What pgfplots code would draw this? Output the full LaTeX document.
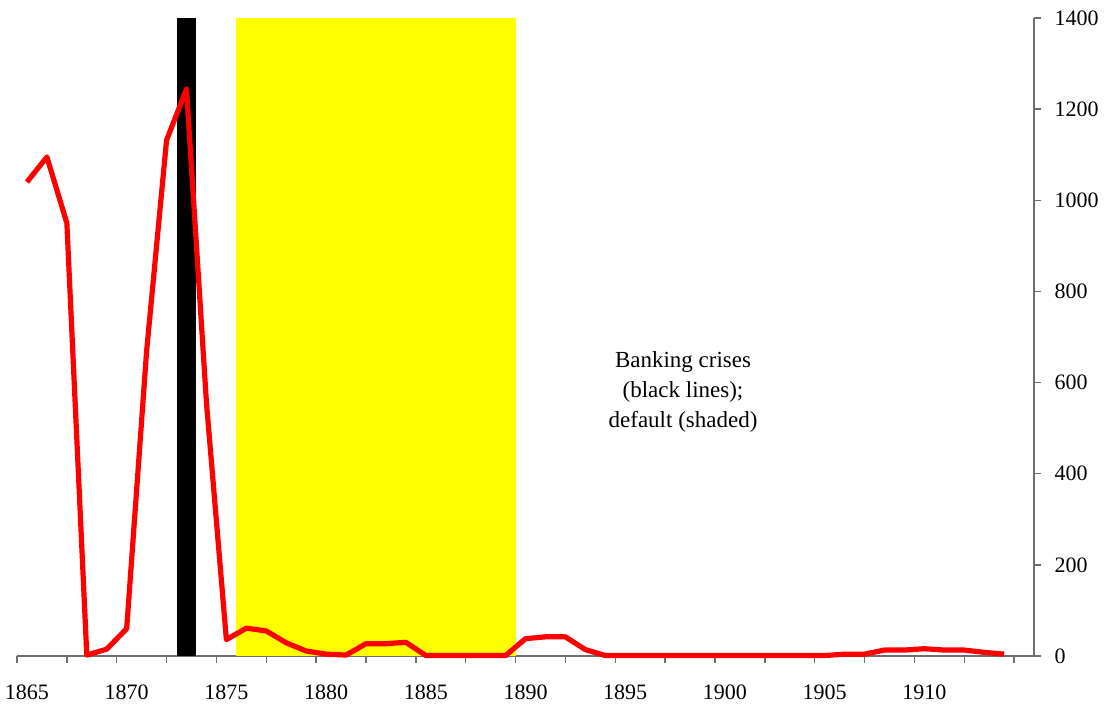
\documentclass[border=0pt]{standalone}
\usepackage{fontspec}
\setmainfont{Liberation Serif}
\usepackage{pgfplots}
\pgfplotsset{compat=1.18}
\definecolor{axisgray}{RGB}{110,110,110}
\definecolor{pureyellow}{RGB}{255,255,0}
\begin{document}
\fontsize{11pt}{13pt}\selectfont
\begin{tikzpicture}
\begin{axis}[
  scale only axis,
  width=508.5pt, height=319pt,
  xmin=1864.5, xmax=1915.5,
  ymin=0, ymax=1400,
  axis x line=bottom, axis y line=right,
  axis line style={-, draw=axisgray, line width=0.7pt},
  xtick={1864.5,1867,1869.5,1872,1874.5,1877,1879.5,1882,1884.5,1887,1889.5,1892,1894.5,1897,1899.5,1902,1904.5,1907,1909.5,1912,1914.5},
  xticklabels={},
  extra x ticks={1865,1870,1875,1880,1885,1890,1895,1900,1905,1910},
  extra x tick labels={1865,1870,1875,1880,1885,1890,1895,1900,1905,1910},
  extra x tick style={major tick length=0pt, tick label style={yshift=-10.5pt}},
  ytick={0,200,400,600,800,1000,1200,1400},
  tick align=outside,
  major tick length=3.5pt,
  tick style={draw=axisgray, line width=0.7pt},
  every tick label/.append style={font=\fontsize{11pt}{13pt}\selectfont},
  yticklabel style={xshift=3pt},
  /pgf/number format/assume math mode=true,
  /pgf/number format/1000 sep={},
  clip=false,
]
\addplot[fill=pureyellow, draw=none] coordinates {(1875.5,1400) (1889.5,1400)} \closedcycle;
\addplot[fill=black, draw=none] coordinates {(1872.5,1400) (1873.5,1400)} \closedcycle;
\addplot[red, line width=2.6pt, line join=round] coordinates {
(1865,1040) (1866,1095) (1867,950) (1868,2) (1869,15) (1870,60)
(1871,669) (1872,1132) (1873,1244) (1874,556) (1875,36) (1876,61)
(1877,55) (1878,29) (1879,11) (1880,4) (1881,2) (1882,27) (1883,27)
(1884,30) (1885,1) (1886,1) (1887,1) (1888,1) (1889,1) (1890,38)
(1891,42) (1892,42) (1893,14) (1894,1) (1895,1) (1896,1) (1897,1)
(1898,1) (1899,1) (1900,1) (1901,1) (1902,1) (1903,1) (1904,1)
(1905,1) (1906,4) (1907,4) (1908,13) (1909,13) (1910,16) (1911,13)
(1912,13) (1913,8) (1914,4)
};
\node[align=center, font=\fontsize{11.5pt}{15pt}\selectfont] at (axis cs:1897.9,579) {Banking crises\\(black lines);\\default (shaded)};
\end{axis}
\pgfresetboundingbox
\path[use as bounding box] ([xshift=-8.5pt,yshift=-26.5pt]current axis.south west) rectangle ([xshift=35pt,yshift=9pt]current axis.north east);
\end{tikzpicture}
\end{document}
